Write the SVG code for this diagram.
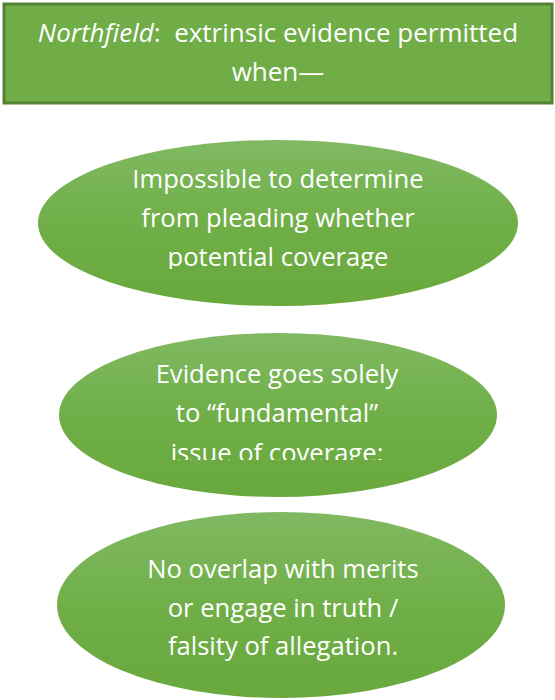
<svg xmlns="http://www.w3.org/2000/svg" width="555" height="700" viewBox="0 0 555 700">
  <defs>
    <linearGradient id="oval-fill" x1="0" y1="0" x2="0" y2="1">
      <stop offset="0" stop-color="#80B962"/>
      <stop offset="0.5" stop-color="#70AF48"/>
      <stop offset="1" stop-color="#68A83C"/>
    </linearGradient>
    <!-- last text lines are cut off at the bottom -->
    <clipPath id="clip-oval1"><rect x="0" y="0" width="555" height="269"/></clipPath>
    <clipPath id="clip-oval2"><rect x="0" y="0" width="555" height="460"/></clipPath>
  </defs>
  <style>
    .label { font-family: "Open Sans", "Liberation Sans", Arial, sans-serif; fill: #ffffff; text-anchor: middle; white-space: pre; }
    .head { font-size: 26px; }
    .body { font-size: 25.6px; }
    .oval { fill: url(#oval-fill); stroke: none; }
  </style>

  <rect width="555" height="700" fill="#ffffff"/>

  <g id="connectors"></g>

  <g id="title">
    <rect x="4" y="4" width="548" height="99" fill="#70AD47" stroke="#548235" stroke-width="3"/>
    <text class="label head" x="278" y="42"><tspan font-style="italic">Northfield</tspan>:  extrinsic evidence permitted</text>
    <text class="label head" x="278" y="81">when—</text>
  </g>

  <g id="oval-1">
    <ellipse class="oval" cx="278" cy="223" rx="240" ry="83"/>
    <g clip-path="url(#clip-oval1)">
      <text class="label body" x="278" y="188">Impossible to determine</text>
      <text class="label body" x="278" y="227">from pleading whether</text>
      <text class="label body" x="278" y="266">potential coverage</text>
    </g>
  </g>

  <g id="oval-2">
    <ellipse class="oval" cx="278" cy="415" rx="219" ry="82"/>
    <g clip-path="url(#clip-oval2)">
      <text class="label body" x="277" y="383">Evidence goes solely</text>
      <text class="label body" x="277" y="422">to “fundamental”</text>
      <text class="label body" x="277" y="462">issue of coverage:</text>
    </g>
  </g>

  <g id="oval-3">
    <ellipse class="oval" cx="281" cy="605" rx="224" ry="93"/>
    <text class="label body" x="283" y="578">No overlap with merits</text>
    <text class="label body" x="283" y="617">or engage in truth /</text>
    <text class="label body" x="283" y="655">falsity of allegation.</text>
  </g>
</svg>
